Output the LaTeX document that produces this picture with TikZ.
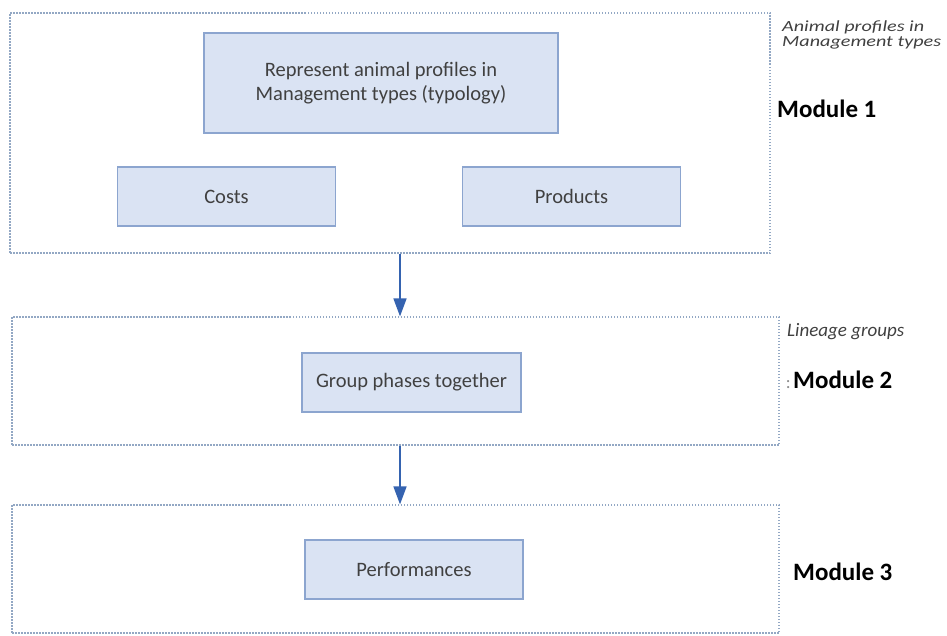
\documentclass[tikz,border=0pt]{standalone}
\usepackage{fontspec}
\setmainfont{Carlito}
\newfontfamily\notefont[FakeStretch=1.3]{Carlito}
\usetikzlibrary{arrows.meta,positioning}
\definecolor{boxfill}{HTML}{DAE3F3}
\definecolor{boxline}{HTML}{8CA5CF}
\definecolor{modline}{HTML}{93A8C4}
\definecolor{arrowblue}{HTML}{3563B0}
\definecolor{boxtext}{HTML}{404040}

\begin{document}
\begin{tikzpicture}[x=1pt,y=-1pt,
    module/.style={rectangle,draw=modline,dash pattern=on 1.5pt off 1.5pt,line width=1.2pt,inner sep=0pt},
    block/.style={rectangle,draw=boxline,fill=boxfill,line width=1.5pt,align=center,text=boxtext,font=\fontsize{20.5}{24}\selectfont,minimum width=218pt,minimum height=59pt},
    note/.style={inner sep=0pt,align=left,text=boxtext},
    tag/.style={inner sep=0pt,anchor=base west,font=\bfseries\fontsize{25}{30}\selectfont},
    arrow/.style={-{Triangle[length=18pt,width=13pt]},line width=1.6pt,draw=arrowblue,fill=arrowblue}
]
\useasboundingbox (0,0) rectangle (947,635);

% modules
\node[module,minimum width=760pt,minimum height=240pt] (m1) at (390,133) {};
\node[module,minimum width=767pt,minimum height=128pt] (m2) at (395.5,381) {};
\node[module,minimum width=767pt,minimum height=128pt] (m3) at (395.5,569) {};

% blocks
\node[block,minimum width=354pt,minimum height=100pt] (profiles) at (381,83) {Represent animal profiles in\\Management types (typology)};
\node[block] (costs) at (226.5,196.5) {Costs};
\node[block] (products) at (571.5,196.5) {Products};
\node[block,minimum width=219pt] (phases) at (411.5,382.5) {Group phases together};
\node[block] (perf) at (414,569.5) {Performances};

% labels on the right
\node[note,anchor=north west,font=\notefont\itshape\fontsize{15.5}{15}\selectfont] (note1) at (782,21) {Animal profiles in\\Management types};
\node[note,anchor=base west,font=\itshape\fontsize{19}{22}\selectfont] (note2) at (787,336) {Lineage groups};
\node[tag] (tag1) at (777,117) {Module 1};
\node[tag] (tag2) at (793,388) {Module 2};
\node[tag] (tag3) at (793,580) {Module 3};
\node[inner sep=0pt,text=black!45,font=\fontsize{18}{20}\selectfont,base left=2pt of tag2] (colon) {:};

\draw[arrow] ([xshift=10pt]m1.south) -- ([xshift=4.5pt]m2.north);
\draw[arrow] ([xshift=4.5pt]m2.south) -- ([xshift=4.5pt]m3.north);
\end{tikzpicture}
\end{document}
